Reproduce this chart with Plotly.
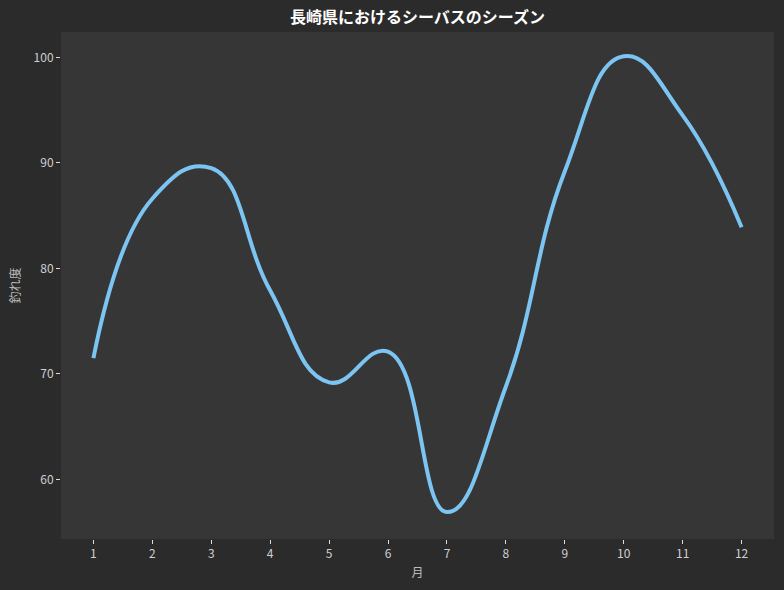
import plotly.graph_objects as go

months = [1, 2, 3, 4, 5, 6, 7, 8, 9, 10, 11, 12]
catch_level = [71.5, 86.6, 89.5, 77.9, 69.2, 72.1, 56.9, 68.8, 89.2, 100.1, 94.5, 83.9]

FONT = "Noto Sans CJK JP"

fig = go.Figure()
fig.add_trace(go.Scatter(
    x=months, y=catch_level, mode="lines",
    line=dict(color="#7cc4f2", width=4, shape="spline", smoothing=1.3),
    showlegend=False,
))

fig.update_layout(
    width=784, height=590,
    paper_bgcolor="#2b2b2b", plot_bgcolor="#363636",
    margin=dict(l=61, r=10, t=32, b=51),
    font=dict(family=FONT, color="#cccccc", size=12),
    title=dict(text="<b>長崎県におけるシーバスのシーズン</b>",
               xref="paper", x=0.5, xanchor="center",
               y=1 - 17 / 590, yanchor="middle",
               font=dict(family=FONT, size=16, color="#ffffff")),
)
fig.update_xaxes(
    range=[0.45, 12.55], tickmode="array", tickvals=months,
    ticks="outside", ticklen=4, tickcolor="#dddddd", showgrid=False,
    zeroline=False, showline=False,
    title=dict(text="月", font=dict(size=12, color="#bbbbbb"), standoff=8),
    tickfont=dict(size=12, color="#d0d0d0"),
)
fig.update_yaxes(
    range=[54.35, 102.4], tickvals=[60, 70, 80, 90, 100],
    ticks="outside", ticklen=4, tickcolor="#dddddd", showgrid=False,
    zeroline=False, showline=False,
    title=dict(text="釣れ度", font=dict(size=12, color="#bbbbbb"), standoff=10),
    tickfont=dict(size=12, color="#d0d0d0"),
)

# the page's default body margin would shift the figure by 8px
fig.write_html("out.html", config={"displayModeBar": False},
               post_script="document.body.style.margin='0';")
